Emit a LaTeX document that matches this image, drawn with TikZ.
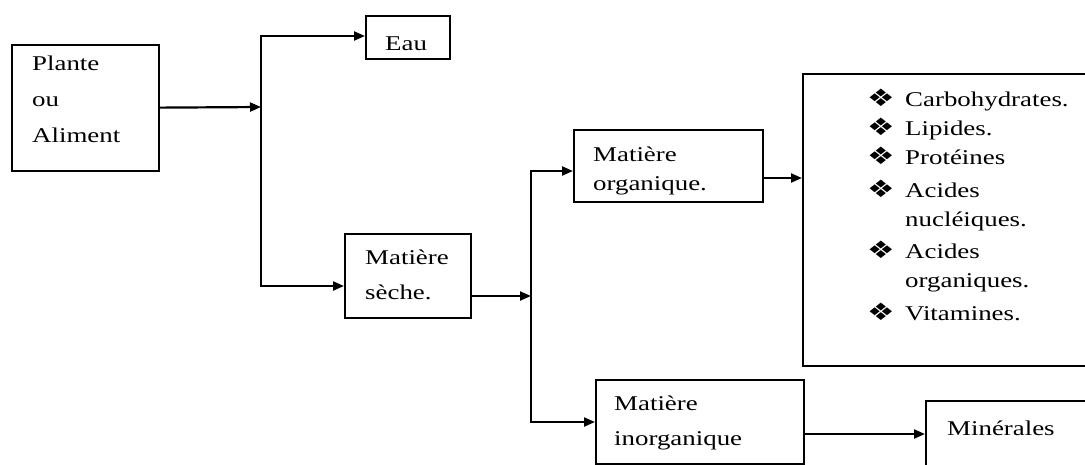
\documentclass[tikz,border=0pt]{standalone}
\usepackage{fontspec}
\usepackage{graphicx}
\usetikzlibrary{arrows.meta}
\setmainfont{Liberation Serif}
\newfontfamily\bulfont{DejaVu Sans}
% wide text block: first-line baseline is the reference point
\newcommand\wtext[2]{{\fontsize{21pt}{#1pt}\selectfont\scalebox{1.28}[1]{\begin{tabular}[t]{@{}l@{}}#2\end{tabular}}}}
\newcommand\mybul{\makebox[29.7pt][l]{\smash{\bulfont\fontsize{24pt}{24pt}\selectfont ❖}}}
\newcommand\nobul{\hspace*{29.7pt}}
\begin{document}
\begin{tikzpicture}[x=1pt,y=-1pt,
  box/.style={draw, line width=2.2pt, inner sep=0pt, anchor=north west},
  txt/.style={anchor=base west, inner sep=0pt},
  arr/.style={line width=2.2pt, -{Triangle[length=11pt,width=9pt]}}]
\clip (0,0) rectangle (1085,464);
\fill[white] (0,0) rectangle (1085,464);
% boxes
\node[box, minimum width=147pt, minimum height=126pt] (plante) at (11,44) {};
\node[box, minimum width=84pt,  minimum height=43pt]  (eau)    at (365,15) {};
\node[box, minimum width=126pt, minimum height=84pt]  (seche)  at (344,233) {};
\node[box, minimum width=189pt, minimum height=72pt]  (org)    at (573,129) {};
\node[box, minimum width=300pt, minimum height=292pt] (big)    at (802,73) {};
\node[box, minimum width=208pt, minimum height=84pt]  (inorg)  at (595,379) {};
\node[box, minimum width=180pt, minimum height=90pt]  (min)    at (925,400) {};
% texts
\node[txt] (plante-t) at (32,70) {\wtext{36}{Plante\\ou\\Aliment}};
\node[txt] (eau-t) at (385,50) {\wtext{36}{Eau}};
\node[txt] (seche-t) at (365,264) {\wtext{35}{Matière\\sèche.}};
\node[txt] (org-t) at (593,161) {\wtext{29}{Matière\\organique.}};
\node[txt] (inorg-t) at (614,410) {\wtext{35}{Matière\\inorganique}};
\node[txt] (min-t) at (947,435) {\wtext{35}{Minérales}};
\node[txt] (list-t) at (867,106) {\wtext{29}{\mybul Carbohydrates.\\
  \mybul Lipides.\\
  \mybul Protéines\\[4pt]
  \mybul Acides\\
  \nobul nucléiques.\\[3pt]
  \mybul Acides\\
  \nobul organiques.\\[4pt]
  \mybul Vitamines.}};
% junctions
\coordinate (j1)  at (261,107);
\coordinate (j1t) at (261,36);
\coordinate (j1b) at (261,286);
\coordinate (j2)  at (531,296);
\coordinate (j2t) at (531,171);
\coordinate (j2b) at (531,422);
\coordinate (j3)  at (780,178);
\coordinate (j4)  at (860,434);
% connectors
\draw[arr] (plante) -- (j1);
\draw[arr] (j1b) -- (j1t) -- (j1t -| eau.west);
\draw[arr] (j1t) -- (j1b) -- (j1b -| seche.west);
\draw[arr] (seche.east |- j2) -- (j2);
\draw[arr] (j2b) -- (j2t) -- (j2t -| org.west);
\draw[arr] (j2t) -- (j2b) -- (j2b -| inorg.west);
\draw[arr] (org.east |- j3) -- (j3 -| big.west);
\draw[arr] (inorg.east |- j4) -- (j4 -| min.west);
\end{tikzpicture}
\end{document}
